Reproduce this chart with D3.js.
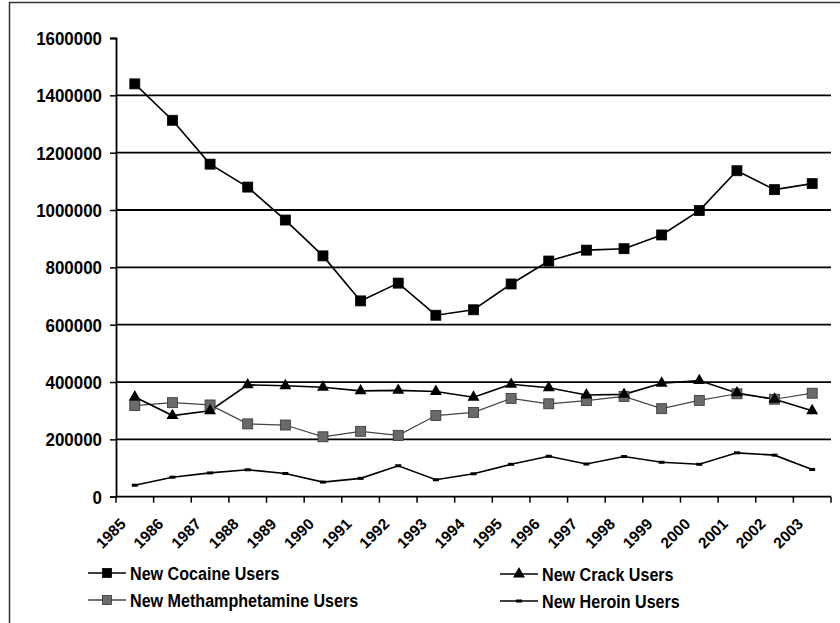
<!DOCTYPE html>
<html>
<head>
<meta charset="utf-8">
<script src="https://cdn.jsdelivr.net/npm/d3@7"></script>
<style>
  html, body { margin: 0; padding: 0; background: #fff; }
  svg { display: block; }
  text { font-family: "Liberation Sans", Arial, sans-serif; font-weight: bold; fill: #000; }
</style>
</head>
<body>
<svg id="chart" width="840" height="623"></svg>
<script>
const years = ["1985","1986","1987","1988","1989","1990","1991","1992","1993","1994","1995","1996","1997","1998","1999","2000","2001","2002","2003"];
const cocaine = [1440000,1313000,1160000,1080000,965000,840000,683000,745000,633000,652000,742000,822000,860000,865000,913000,998000,1137000,1071000,1092000];
const crack = [348000,283000,300000,390000,387000,382000,369000,371000,367000,347000,392000,380000,355000,357000,396000,405000,362000,340000,300000];
const meth = [318000,328000,320000,254000,250000,209000,228000,214000,283000,294000,343000,324000,335000,350000,307000,336000,359000,340000,361000];
const heroin = [40000,68000,83000,94000,81000,51000,64000,108000,59000,80000,113000,141000,114000,140000,120000,113000,153000,145000,95000];
const yTicks = [0,200000,400000,600000,800000,1000000,1200000,1400000,1600000];
const seriesNames = ["New Cocaine Users","New Crack Users","New Methamphetamine Users","New Heroin Users"];

const svg = d3.select("#chart");

// outer frame
svg.append("rect").attr("x", 9.5).attr("y", 2.5).attr("width", 900).attr("height", 700)
  .attr("fill", "none").attr("stroke", "#333").attr("stroke-width", 1.5);

const x = d3.scaleBand().domain(years).range([116, 831]).padding(0);
const y = d3.scaleLinear().domain([0, 1600000]).range([496.7, 38]);
const cx = d => x(d) + x.bandwidth() / 2;

// gridlines
svg.append("g").selectAll("line").data(yTicks.filter(v => v > 0 && v < 1600000)).join("line")
  .attr("x1", 116).attr("x2", 831)
  .attr("y1", d => y(d)).attr("y2", d => y(d))
  .attr("stroke", "#000").attr("stroke-width", 1.8);

// y axis
const yAxis = svg.append("g").attr("transform", "translate(116,0)")
  .call(d3.axisLeft(y).tickValues(yTicks).tickFormat(d3.format("d")).tickSize(6).tickPadding(8));
yAxis.select(".domain").attr("stroke", "#000").attr("stroke-width", 1.8);
yAxis.selectAll(".tick line").attr("stroke", "#000").attr("stroke-width", 1.5);
yAxis.selectAll("text").attr("font-size", 18).attr("font-family", "Liberation Sans, Arial, sans-serif")
  .attr("font-weight", "bold").attr("fill", "#000").attr("dy", "0.36em")
  .each(function() { const w = this.getComputedTextLength(); d3.select(this).attr("textLength", w * 0.94).attr("lengthAdjust", "spacingAndGlyphs"); });

// x axis
const xg = svg.append("g");
xg.append("line").attr("x1", 116).attr("x2", 831).attr("y1", y(0)).attr("y2", y(0))
  .attr("stroke", "#000").attr("stroke-width", 1.8);
const bounds = years.map(d => x(d)).concat([x(years[years.length - 1]) + x.bandwidth()]);
xg.selectAll("line.tk").data(bounds).join("line").attr("class", "tk")
  .attr("x1", d => d).attr("x2", d => d).attr("y1", y(0)).attr("y2", y(0) + 6)
  .attr("stroke", "#000").attr("stroke-width", 1.5);
xg.selectAll("text").data(years).join("text")
  .attr("transform", d => `translate(${cx(d) - 8},525) rotate(-45)`)
  .attr("text-anchor", "end").attr("font-size", 15.5).text(d => d);

// lines
const line = vals => d3.line().x((v, i) => cx(years[i])).y(v => y(v))(vals);

svg.append("path").attr("d", line(meth)).attr("fill", "none").attr("stroke", "#444").attr("stroke-width", 1.2);
svg.append("path").attr("d", line(heroin)).attr("fill", "none").attr("stroke", "#000").attr("stroke-width", 1.6);
svg.append("path").attr("d", line(crack)).attr("fill", "none").attr("stroke", "#000").attr("stroke-width", 1.6);
svg.append("path").attr("d", line(cocaine)).attr("fill", "none").attr("stroke", "#000").attr("stroke-width", 1.6);

const sq = 10;
function squares(vals, fill, stroke) {
  svg.append("g").selectAll("rect").data(vals).join("rect")
    .attr("x", (v, i) => cx(years[i]) - sq / 2).attr("y", v => y(v) - sq / 2)
    .attr("width", sq).attr("height", sq).attr("fill", fill).attr("stroke", stroke).attr("stroke-width", 0.8);
}
const tri = d3.symbol().type(d3.symbolTriangle).size(62);
function triangles(vals) {
  svg.append("g").selectAll("path").data(vals).join("path")
    .attr("d", tri).attr("transform", (v, i) => `translate(${cx(years[i])},${y(v)})`).attr("fill", "#000");
}
function dashes(vals) {
  svg.append("g").selectAll("rect").data(vals).join("rect")
    .attr("x", (v, i) => cx(years[i]) - 3).attr("y", v => y(v) - 1.5)
    .attr("width", 6).attr("height", 3).attr("fill", "#000");
}
dashes(heroin);
squares(meth, "#6a6a6a", "#333");
triangles(crack);
squares(cocaine, "#000", "#000");

// legend
const legend = [
  {name: seriesNames[0], lx: 88, ly: 573, kind: "sq", fill: "#000", stroke: "#000"},
  {name: seriesNames[2], lx: 88, ly: 600, kind: "sq", fill: "#6a6a6a", stroke: "#333"},
  {name: seriesNames[1], lx: 500, ly: 574, kind: "tri"},
  {name: seriesNames[3], lx: 500, ly: 601, kind: "dash"}
];
const lg = svg.append("g");
legend.forEach(L => {
  lg.append("line").attr("x1", L.lx).attr("x2", L.lx + 38).attr("y1", L.ly).attr("y2", L.ly)
    .attr("stroke", L.kind === "sq" && L.fill !== "#000" ? "#444" : "#000").attr("stroke-width", 1.5);
  const mx = L.lx + 19;
  if (L.kind === "sq") {
    lg.append("rect").attr("x", mx - 4.5).attr("y", L.ly - 4.5).attr("width", 9).attr("height", 9)
      .attr("fill", L.fill).attr("stroke", L.stroke).attr("stroke-width", 0.8);
  } else if (L.kind === "tri") {
    lg.append("path").attr("d", tri).attr("transform", `translate(${mx},${L.ly})`).attr("fill", "#000");
  } else {
    lg.append("rect").attr("x", mx - 3).attr("y", L.ly - 1.5).attr("width", 6).attr("height", 3).attr("fill", "#000");
  }
  const t = lg.append("text").attr("x", L.lx + 42).attr("y", L.ly + 7).attr("font-size", 17.5).text(L.name);
  const w = t.node().getComputedTextLength();
  t.attr("textLength", w * 0.92).attr("lengthAdjust", "spacingAndGlyphs");
});
</script>
</body>
</html>
